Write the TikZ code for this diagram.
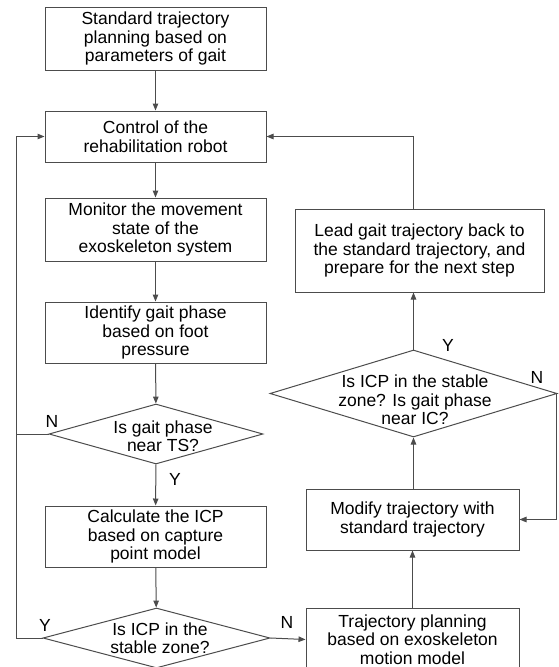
\documentclass[tikz,border=0pt]{standalone}
\usepackage{fontspec}
\setmainfont{Liberation Sans}
\usetikzlibrary{shapes.geometric,arrows.meta}
\begin{document}
\begin{tikzpicture}[x=1pt,y=-1pt,
		every node/.style={font=\fontsize{17.5}{18.5}\selectfont},
		box/.style={draw=black!70,line width=1pt,align=center,inner sep=0pt},
		decision/.style={draw=black!70,line width=1pt,diamond,inner sep=0pt},
		flow/.style={draw=black!70,line width=1pt,-{Triangle[length=7pt,width=5.5pt]}},
		line/.style={draw=black!70,line width=1pt}]
			\useasboundingbox (0,0) rectangle (558,667);
			
			% left column
			\node[box,minimum width=221pt,minimum height=63pt] (start) at (155.5,38.5) {Standard trajectory\\planning based on\\parameters of gait};
			\node[box,minimum width=221pt,minimum height=51pt] (ctrl) at (155.5,136.5) {Control of the\\rehabilitation robot};
			\node[box,minimum width=221pt,minimum height=63pt] (monitor) at (155.5,229.5) {Monitor the movement\\state of the\\exoskeleton system};
			\node[box,minimum width=221pt,minimum height=61pt] (identify) at (155.5,332.5) {Identify gait phase\\based on foot\\pressure};
			\node[decision,minimum width=214pt,minimum height=60pt] (gaitq) at (156,434) {};
			\node[align=center,inner sep=0pt] (gaitq-text) at (163,436) {Is gait phase\\near TS?};
			\node[box,minimum width=221pt,minimum height=61pt] (calc) at (155.5,536.5) {Calculate the ICP\\based on capture\\point model};
			\node[decision,minimum width=227pt,minimum height=60pt] (icpq) at (156.5,638) {};
			\node[align=center,inner sep=0pt] (icpq-text) at (160,638) {Is ICP in the\\stable zone?};
			
			% right column
			\node[box,minimum width=213pt,minimum height=63pt] (plan) at (412.5,639.5) {Trajectory planning\\based on exoskeleton\\motion model};
			\node[box,minimum width=213pt,minimum height=61pt] (modify) at (412.5,519.5) {Modify trajectory with\\standard trajectory};
			\node[decision,minimum width=287pt,minimum height=87pt] (stableq) at (413.5,393.5) {};
			\node[align=center,inner sep=0pt] (stableq-text) at (415,400) {Is ICP in the stable\\zone? Is gait phase\\near IC?};
			\node[box,minimum width=249pt,minimum height=83pt] (lead) at (419.5,250.5) {Lead gait trajectory back to\\the standard trajectory, and\\prepare for the next step};
			
			\coordinate (back) at (16,136.5);
			
			\draw[flow] (start) -- (ctrl);
			\draw[flow] (ctrl) -- (monitor);
			\draw[flow] (monitor) -- (identify);
			\draw[flow] (identify) -- (gaitq);
			\draw[flow] (gaitq) -- (calc);
			\draw[flow] (calc) -- (icpq);
			\draw[line] (gaitq.west) -- (gaitq.west -| back);
			\draw[flow] (icpq.west) -| (back) -- (ctrl.west);
			\draw[flow] (icpq.east) -- (plan.west);
			\draw[flow] (plan) -- (modify);
			\draw[flow] (modify.north -| stableq.south) -- (stableq.south);
			\draw[flow] (stableq.north) -- (stableq.north |- lead.south);
			\draw[flow] (stableq.north |- lead.north) |- (ctrl.east);
			\draw[flow] (stableq.east) -- ++(-1.5,0) |- (modify.east);
			
			\node (n1) at (52,421) {N};
			\node (y1) at (175,479) {Y};
			\node (y2) at (45,625) {Y};
			\node (n2) at (287,622) {N};
			\node (y3) at (448,345) {Y};
			\node (n3) at (537,377) {N};
		\end{tikzpicture}
\end{document}
